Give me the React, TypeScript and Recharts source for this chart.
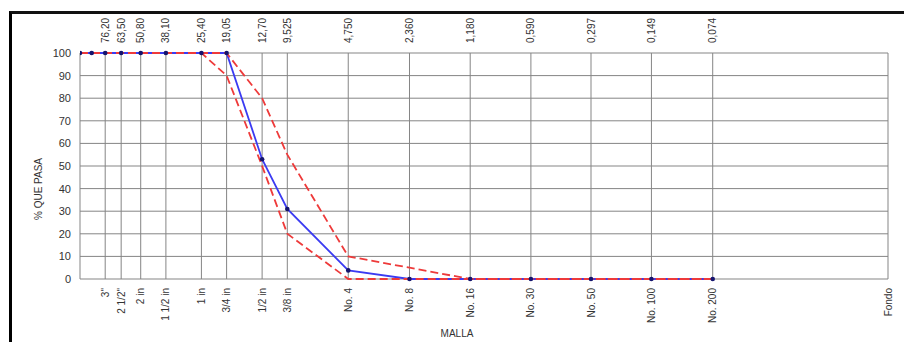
import { CartesianGrid, Line, LineChart, XAxis, YAxis } from 'recharts';

// abertura de tamices en mm (eje logarítmico invertido)
const sizes = [101.6, 88.9, 76.2, 63.5, 50.8, 38.1, 25.4, 19.05, 12.7, 9.525, 4.75, 2.36, 1.18, 0.59, 0.297, 0.149, 0.074];
const passing = [100, 100, 100, 100, 100, 100, 100, 100, 53, 31, 3.8, 0, 0, 0, 0, 0, 0];
const upperLimit = [100, 100, 100, 100, 100, 100, 100, 100, 80, 55, 10, 5, 0, 0, 0, 0, 0];
const lowerLimit = [100, 100, 100, 100, 100, 100, 100, 90, 50, 20, 0, 0, 0, 0, 0, 0, 0];

const topTicks = [76.2, 63.5, 50.8, 38.1, 25.4, 19.05, 12.7, 9.525, 4.75, 2.36, 1.18, 0.59, 0.297, 0.149, 0.074];
const topLabels = ['76,20', '63,50', '50,80', '38,10', '25,40', '19,05', '12,70', '9,525', '4,750', '2,360', '1,180', '0,590', '0,297', '0,149', '0,074'];

const bottomTicks = [101.6, 76.2, 63.5, 50.8, 38.1, 25.4, 19.05, 12.7, 9.525, 4.75, 2.36, 1.18, 0.59, 0.297, 0.149, 0.074, 0.01];
const bottomLabels = ['', '3"', '2 1/2"', '2 in', '1 1/2 in', '1 in', '3/4 in', '1/2 in', '3/8 in', 'No. 4', 'No. 8', 'No. 16', 'No. 30', 'No. 50', 'No. 100', 'No. 200', 'Fondo'];

const yTicks = [0, 10, 20, 30, 40, 50, 60, 70, 80, 90, 100];

const data = sizes.map((size, i) => ({
  size,
  real: passing[i],
  max: upperLimit[i],
  min: lowerLimit[i],
}));

const FONT = '"Liberation Sans", Arial, sans-serif';
const TEXT = '#333';
const GRID = '#858585';
const BLUE = '#3b3bf2';
const RED = '#ee3a3a';

function labelFor(ticks: number[], labels: string[], v: number) {
  const i = ticks.findIndex((t) => Math.abs(t - v) < 1e-6);
  return i >= 0 ? labels[i] : '';
}

function TopTick({ x, payload }: any) {
  const y = 43;
  return (
    <text
      x={x}
      y={y}
      dy="0.35em"
      transform={`rotate(-90, ${x}, ${y})`}
      textAnchor="start"
      fontSize={10}
      fontFamily={FONT}
      fill={TEXT}
    >
      {labelFor(topTicks, topLabels, payload.value)}
    </text>
  );
}

function BottomTick({ x, payload }: any) {
  const y = 288;
  return (
    <text
      x={x}
      y={y}
      dy="0.35em"
      transform={`rotate(-90, ${x}, ${y})`}
      textAnchor="end"
      fontSize={10}
      fontFamily={FONT}
      fill={TEXT}
    >
      {labelFor(bottomTicks, bottomLabels, payload.value)}
    </text>
  );
}

export default function App() {
  return (
    <div style={{ position: 'fixed', left: 0, top: 0, width: 904, height: 342, background: '#fff', overflow: 'hidden' }}>
      <div
        style={{
          position: 'absolute',
          left: 9,
          top: 11,
          width: 904,
          height: 342,
          borderLeft: '3px solid #000',
          borderTop: '3px solid #111',
        }}
      />
      <div style={{ position: 'absolute', left: 0, top: 0 }}>
        <LineChart width={904} height={342} data={data} margin={{ top: 13, right: 16, bottom: 13, left: 0 }}>
          <CartesianGrid stroke={GRID} strokeWidth={1} />
          <XAxis
            dataKey="size"
            type="number"
            scale="log"
            domain={[0.01, 101.6]}
            allowDataOverflow
            reversed
            ticks={bottomTicks}
            interval={0}
            height={50}
            axisLine={false}
            tickLine={false}
            tick={<BottomTick />}
          />
          <XAxis
            xAxisId="top"
            orientation="top"
            dataKey="size"
            type="number"
            scale="log"
            domain={[0.01, 101.6]}
            allowDataOverflow
            reversed
            ticks={topTicks}
            interval={0}
            height={40}
            axisLine={false}
            tickLine={false}
            tick={<TopTick />}
          />
          <YAxis
            type="number"
            domain={[0, 100]}
            ticks={yTicks}
            interval={0}
            width={80}
            axisLine={false}
            tickLine={false}
            tickSize={0}
            tickMargin={9}
            tick={{ fontSize: 11, fontFamily: FONT, fill: TEXT }}
          />
          <Line dataKey="real" stroke={BLUE} strokeWidth={1.8} dot={false} activeDot={false} isAnimationActive={false} />
          <Line dataKey="max" stroke={RED} strokeWidth={1.8} strokeDasharray="8 4" dot={false} activeDot={false} isAnimationActive={false} />
          <Line dataKey="min" stroke={RED} strokeWidth={1.8} strokeDasharray="8 4" dot={false} activeDot={false} isAnimationActive={false} />
          <Line
            dataKey="real"
            stroke="none"
            dot={{ r: 2.3, fill: '#14146e', stroke: 'none' }}
            activeDot={false}
            isAnimationActive={false}
          />
          <text
            x={38}
            y={189}
            transform="rotate(-90, 38, 189)"
            textAnchor="middle"
            dy="0.35em"
            fontSize={10}
            fontFamily={FONT}
            fill={TEXT}
          >
            % QUE PASA
          </text>
          <text x={457} y={337} textAnchor="middle" fontSize={10} fontFamily={FONT} fill={TEXT}>
            MALLA
          </text>
        </LineChart>
      </div>
    </div>
  );
}
